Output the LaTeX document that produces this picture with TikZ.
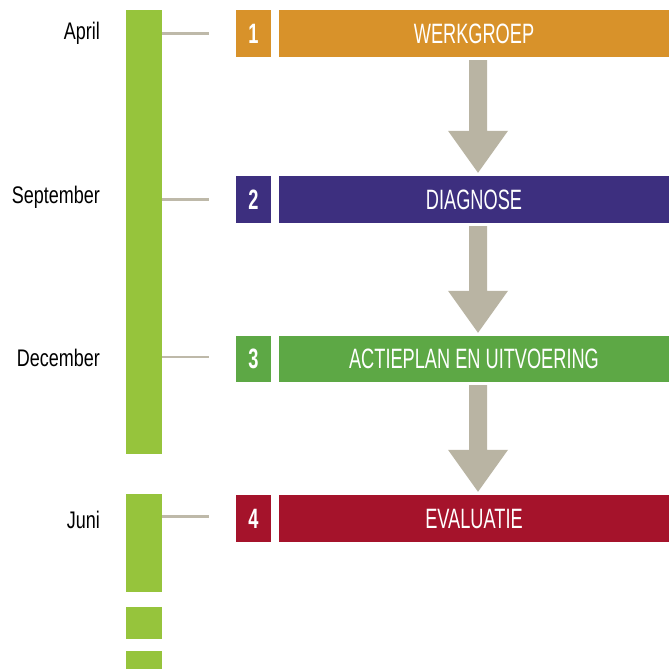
\documentclass[tikz,border=0pt]{standalone}
\usepackage{fontspec}
\setmainfont{Liberation Sans}
\newfontfamily\monthfont[FakeStretch=0.75]{Liberation Sans}
\newfontfamily\labelfont[FakeStretch=0.65]{Liberation Sans}
\newfontfamily\numfont[FakeStretch=0.65]{Liberation Sans}
\usetikzlibrary{calc}
\definecolor{barg}{HTML}{96C43C}
\definecolor{cOrange}{HTML}{D8922A}
\definecolor{cPurple}{HTML}{3D2F7F}
\definecolor{cGreen}{HTML}{5DA845}
\definecolor{cRed}{HTML}{A5132B}
\definecolor{arrowc}{HTML}{B9B4A3}
\definecolor{tickc}{HTML}{BEB9A9}
\tikzset{
  barseg/.style={fill=barg, draw=none, inner sep=0, minimum width=36pt},
  numbox/.style={fill=#1, draw=none, inner sep=0, minimum width=35pt, minimum height=47pt,
     text=white, font=\numfont\bfseries\fontsize{28}{28}\selectfont},
  mainbox/.style={fill=#1, draw=none, inner sep=0, minimum width=390pt, minimum height=47pt,
     text=white, font=\labelfont\fontsize{28}{28}\selectfont},
  month/.style={anchor=east, inner sep=0, text=black, font=\monthfont\fontsize{24}{24}\selectfont},
  tickline/.style={draw=tickc, line width=2.5pt},
  flowarrow/.style={fill=arrowc, draw=none}
}
\newcommand{\flowdown}[2]{%
  \fill[flowarrow] let \p1=([xshift=4pt]#1.south), \p2=([xshift=4pt]#2.north) in
    (\x1-9pt,\y1-3pt) -- (\x1+9pt,\y1-3pt) -- (\x1+9pt,\y2+45pt) -- (\x1+30pt,\y2+45pt)
    -- (\x1,\y2+3pt) -- (\x1-30pt,\y2+45pt) -- (\x1-9pt,\y2+45pt) -- cycle;}
\begin{document}
\begin{tikzpicture}[x=1pt,y=-1pt]
\useasboundingbox (0,0) rectangle (669,669);
\fill[white] (0,0) rectangle (669,669);
% timeline bar
\node[barseg, minimum height=444pt] (bar1) at (144,232) {};
\node[barseg, minimum height=98pt] (bar2) at (144,543) {};
\node[barseg, minimum height=32pt] (bar3) at (144,623) {};
\node[barseg, minimum height=19pt] (bar4) at (144,660.5) {};
% number boxes
\node[numbox=cOrange] (n1) at (253.5,33.5) {1};
\node[numbox=cPurple] (n2) at (253.5,199.5) {2};
\node[numbox=cGreen, minimum height=46pt] (n3) at (253.5,359) {3};
\node[numbox=cRed] (n4) at (253.5,518.5) {4};
% main boxes
\node[mainbox=cOrange] (b1) at (474,33.5) {WERKGROEP};
\node[mainbox=cPurple] (b2) at (474,199.5) {DIAGNOSE};
\node[mainbox=cGreen, minimum height=46pt] (b3) at (474,359) {ACTIEPLAN EN UITVOERING};
\node[mainbox=cRed] (b4) at (474,518.5) {EVALUATIE};
% months
\node[month] (m1) at (100,33) {April};
\node[month] (m2) at (100,197) {September};
\node[month] (m3) at (100,358) {December};
\node[month] (m4) at (100,520) {Juni};
% ticks
\draw[tickline] (n1.west -| bar1.east) -- ([xshift=-27pt]n1.west);
\draw[tickline] (n2.west -| bar1.east) -- ([xshift=-27pt]n2.west);
\draw[tickline] ([yshift=2pt]n3.west -| bar1.east) -- ([xshift=-27pt,yshift=2pt]n3.west);
\draw[tickline] ([yshift=2pt]n4.west -| bar2.east) -- ([xshift=-27pt,yshift=2pt]n4.west);
% arrows
\flowdown{b1}{b2}
\flowdown{b2}{b3}
\flowdown{b3}{b4}
\end{tikzpicture}
\end{document}
